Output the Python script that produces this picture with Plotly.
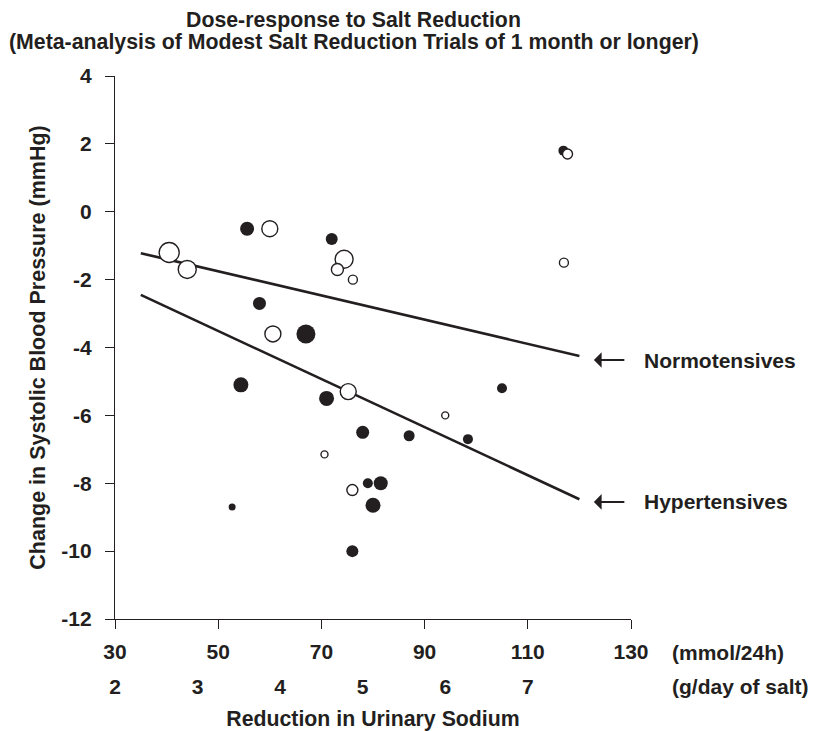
import plotly.graph_objects as go

# Open circles: normotensive trials (mmol/24h reduction, change in SBP, marker diameter)
normo_x = [40.5, 44.0, 60.0, 60.6, 74.4, 73.1, 76.1, 75.2, 94.0, 70.6, 76.0, 117.7, 117.0]
normo_y = [-1.2, -1.7, -0.5, -3.6, -1.4, -1.7, -2.0, -5.3, -6.0, -7.15, -8.2, 1.7, -1.5]
normo_size = [20, 18, 16, 16, 18, 12, 9, 16, 7, 7, 11, 10, 9]

# Filled circles: hypertensive trials
hyper_x = [55.6, 72.0, 58.0, 67.0, 54.4, 71.0, 105.0, 78.0, 87.0, 98.4, 79.0, 81.5, 80.0, 76.0, 52.7, 116.9]
hyper_y = [-0.5, -0.8, -2.7, -3.6, -5.1, -5.5, -5.2, -6.5, -6.6, -6.7, -8.0, -8.0, -8.65, -10.0, -8.7, 1.8]
hyper_size = [14, 12, 13, 19, 15, 15, 10, 13, 11, 10, 10, 14, 15, 12, 7, 10]

# Regression lines (endpoints)
fit_x = [35, 120]
normo_fit = [-1.22, -4.25]
hyper_fit = [-2.45, -8.47]

# Axis ticks
mmol_ticks = [30, 50, 70, 90, 110, 130]
y_ticks = [4, 2, 0, -2, -4, -6, -8, -10, -12]
salt_pos = [30, 46, 62, 78, 94, 110]   # g/day of salt, placed on the mmol scale
salt_labels = ["2", "3", "4", "5", "6", "7"]

INK = "#231f20"
FONT = "Liberation Sans"

fig = go.Figure()

fig.add_trace(go.Scatter(x=fit_x, y=normo_fit, mode="lines",
                         line=dict(color=INK, width=2.6), hoverinfo="skip"))
fig.add_trace(go.Scatter(x=fit_x, y=hyper_fit, mode="lines",
                         line=dict(color=INK, width=2.6), hoverinfo="skip"))

fig.add_trace(go.Scatter(
    x=hyper_x, y=hyper_y, mode="markers", name="Hypertensives",
    marker=dict(size=hyper_size, color=INK, opacity=1, line=dict(width=0)),
    cliponaxis=False
))
fig.add_trace(go.Scatter(
    x=normo_x, y=normo_y, mode="markers", name="Normotensives",
    marker=dict(size=normo_size, color="white", opacity=1, line=dict(width=1.4, color=INK)),
    cliponaxis=False
))

# second row of tick labels (salt) on an overlaying axis
fig.add_trace(go.Scatter(x=[30, 130], y=[None, None], xaxis="x2", showlegend=False,
                         hoverinfo="skip"))

# page body adds an 8px offset, so the figure is sized to fit inside the window
fig.update_layout(
    width=809, height=723,
    margin=dict(l=107, r=186, t=68, b=112),
    plot_bgcolor="white", paper_bgcolor="white",
    showlegend=False,
    font=dict(family=FONT, size=21, color=INK, weight="bold"),
    xaxis=dict(
        range=[30, 130], tickvals=mmol_ticks, ticks="outside", ticklen=9,
        tickwidth=1.3, tickcolor=INK, showline=True, linecolor=INK, linewidth=1.3,
        showgrid=False, zeroline=False, ticklabelstandoff=5, automargin=False,
        title=dict(text="Reduction in Urinary Sodium", standoff=55,
                   font=dict(size=21.3, family=FONT, weight="bold")),
    ),
    xaxis2=dict(
        range=[30, 130], overlaying="x", anchor="y", side="bottom",
        tickvals=salt_pos, ticktext=salt_labels, ticks="", showline=False,
        showgrid=False, zeroline=False, ticklabelstandoff=53, automargin=False,
    ),
    yaxis=dict(
        range=[-12, 4], tickvals=y_ticks, ticktext=[str(v) for v in y_ticks],
        ticks="outside", ticklen=9, ticklabelstandoff=9, automargin=False,
        tickwidth=1.3, tickcolor=INK, showline=True, linecolor=INK, linewidth=1.3,
        showgrid=False, zeroline=False,
        title=dict(text="Change in Systolic Blood Pressure (mmHg)", standoff=9,
                   font=dict(size=21.5, family=FONT, weight="bold")),
    ),
)

annos = [
    dict(text="Dose-response to Salt Reduction", x=0.463, y=1.1031),
    dict(text="(Meta-analysis of Modest Salt Reduction Trials of 1 month or longer)",
         x=0.463, y=1.0626),
]
for a in annos:
    fig.add_annotation(xref="paper", yref="paper", xanchor="center", yanchor="middle",
                       showarrow=False, font=dict(size=21.3, family=FONT, weight="bold"), **a)

# unit labels beside the tick rows
fig.add_annotation(text="(mmol/24h)", xref="paper", yref="paper", x=1.075, y=-0.0608,
                   xanchor="left", yanchor="middle", showarrow=False)
fig.add_annotation(text="(g/day of salt)", xref="paper", yref="paper", x=1.075, y=-0.125,
                   xanchor="left", yanchor="middle", showarrow=False)

# line labels with arrows
for label, yv in [("Normotensives", -4.37), ("Hypertensives", -8.55)]:
    fig.add_annotation(x=122.8, y=yv, xref="x", yref="y", text="", showarrow=True,
                       ax=32, ay=0, arrowhead=1, arrowsize=1.3, arrowwidth=2,
                       arrowcolor=INK)
    fig.add_annotation(x=1.0213, y=yv, xref="paper", yref="y", text=label,
                       xanchor="left", yanchor="middle", showarrow=False)

fig.write_html("out.html")
